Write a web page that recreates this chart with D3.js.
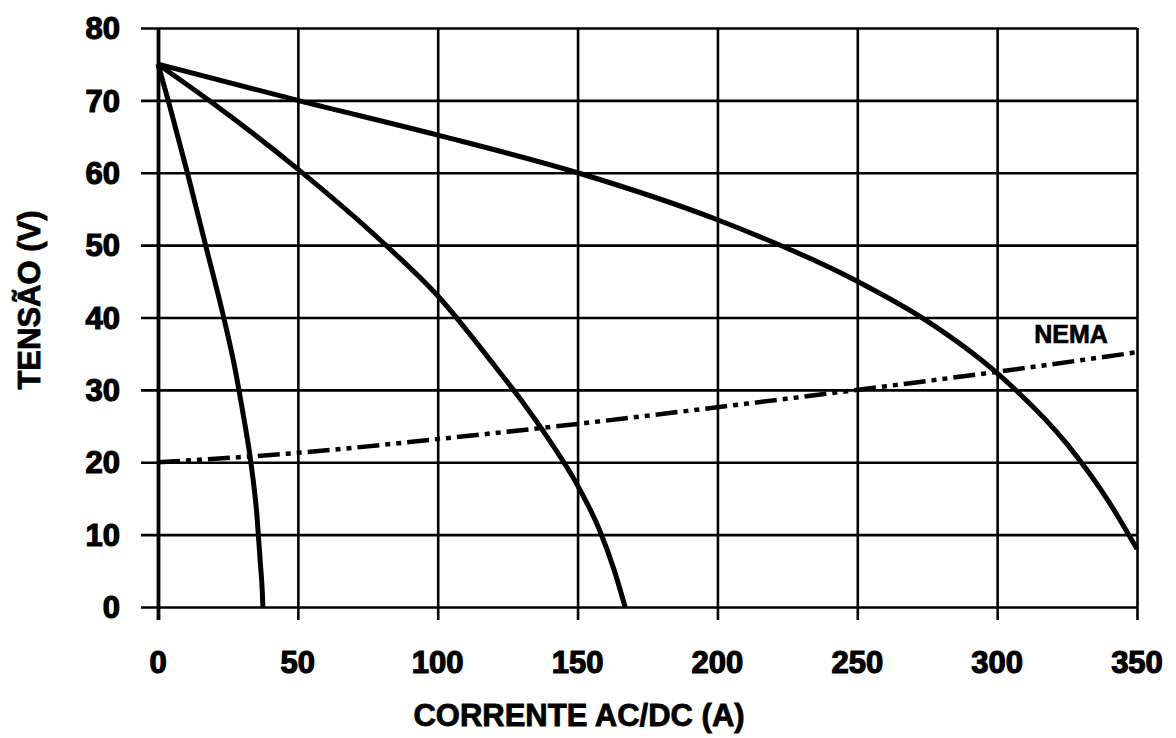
<!DOCTYPE html>
<html>
<head>
<meta charset="utf-8">
<script src="https://cdn.jsdelivr.net/npm/d3@7"></script>
<style>
  body { margin: 0; background: #fff; }
  svg { display: block; }
  text { font-family: "Liberation Sans", Arial, sans-serif; font-weight: bold; fill: #000; }
  .tick-label { font-size: 31px; stroke: #000; stroke-width: 1.2px; }
  .title { font-size: 31px; stroke: #000; stroke-width: 0.8px; }
  .nema-label { font-size: 25px; stroke: #000; stroke-width: 0.7px; }
</style>
</head>
<body>
<div id="chart"></div>
<script>
// Tick values for both axes.
var xTicks = [0, 50, 100, 150, 200, 250, 300, 350];
var yTicks = [0, 10, 20, 30, 40, 50, 60, 70, 80];

// Voltage/current curves (current A, voltage V).
var curveLow = [
    [0, 75], [4, 69.5], [10.5, 60], [17, 50], [23.5, 40], [27.5, 33],
    [30.5, 26.5], [33.2, 20], [35.4, 12.5], [36.6, 6], [37.3, 2], [37.5, 0]
];
var curveMid = [
    [0, 75], [20, 69.5], [50, 60.5], [80, 50.5], [100, 43], [120, 33.5],
    [130, 28.5], [140, 23], [150, 16.8], [158, 10.5], [163, 5.2], [167, 0]
];
var curveHigh = [
    [0, 75], [50, 70], [100, 65.2], [150, 60], [200, 53.5], [250, 45],
    [275, 39.5], [300, 32.3], [325, 22.5], [340, 14.5], [350, 8]
];
var nemaLine = [
    [0, 20], [50, 21.3], [100, 23.2], [150, 25.3], [200, 27.6],
    [250, 30], [300, 32.5], [350, 35.2]
];

var width = 1176,
    height = 738;

var svg = d3.select("#chart").append("svg")
    .attr("width", width)
    .attr("height", height);

var x = d3.scaleLinear().domain([0, 350]).range([158, 1137]);
var y = d3.scaleLinear().domain([0, 80]).range([607, 28]);

// Horizontal grid lines, sticking out a little to the left as ticks.
svg.append("g")
    .attr("transform", "translate(" + x(0) + ",0)")
    .call(d3.axisLeft(y).tickValues(yTicks).tickSize(17).tickFormat(""))
    .call(function(g) { g.select(".domain").remove(); })
    .call(function(g) {
        g.selectAll(".tick line")
            .attr("x2", -17).attr("x1", x(350) - x(0))
            .attr("stroke", "#000").attr("stroke-width", 2.6);
    });

// Vertical grid lines, sticking out below as ticks.
svg.append("g")
    .attr("transform", "translate(0," + y(80) + ")")
    .call(d3.axisBottom(x).tickValues(xTicks).tickFormat(""))
    .call(function(g) { g.select(".domain").remove(); })
    .call(function(g) {
        g.selectAll(".tick line")
            .attr("y1", 0).attr("y2", y(0) - y(80) + 13)
            .attr("stroke", "#000")
            .attr("stroke-width", function(d) { return d === 0 ? 3.8 : 2.6; });
    });

// Tick labels.
svg.append("g").selectAll("text").data(yTicks).join("text")
    .attr("class", "tick-label")
    .attr("x", 120)
    .attr("y", function(d) { return y(d); })
    .attr("dy", "0.36em")
    .attr("text-anchor", "end")
    .text(function(d) { return d; });

svg.append("g").selectAll("text").data(xTicks).join("text")
    .attr("class", "tick-label")
    .attr("x", function(d) { return x(d); })
    .attr("y", 673)
    .attr("text-anchor", "middle")
    .text(function(d) { return d; });

// Axis titles.
svg.append("text")
    .attr("class", "title")
    .attr("x", 579)
    .attr("y", 726)
    .attr("text-anchor", "middle")
    .text("CORRENTE AC/DC (A)");

svg.append("text")
    .attr("class", "title")
    .attr("transform", "translate(40,300) rotate(-90)")
    .attr("text-anchor", "middle")
    .text("TENSÃO (V)");

// The curves.
var line = d3.line()
    .x(function(d) { return x(d[0]); })
    .y(function(d) { return y(d[1]); })
    .curve(d3.curveMonotoneX);

[curveLow, curveMid, curveHigh].forEach(function(data) {
    svg.append("path")
        .datum(data)
        .attr("d", line)
        .attr("fill", "none")
        .attr("stroke", "#000")
        .attr("stroke-width", 5)
        .attr("stroke-linejoin", "round");
});

svg.append("path")
    .datum(nemaLine)
    .attr("d", line)
    .attr("fill", "none")
    .attr("stroke", "#000")
    .attr("stroke-width", 4.5)
    .attr("stroke-dasharray", "22,6,5,6,5,6");

svg.append("text")
    .attr("class", "nema-label")
    .attr("x", 1071)
    .attr("y", 343)
    .attr("text-anchor", "middle")
    .text("NEMA");
</script>
</body>
</html>
